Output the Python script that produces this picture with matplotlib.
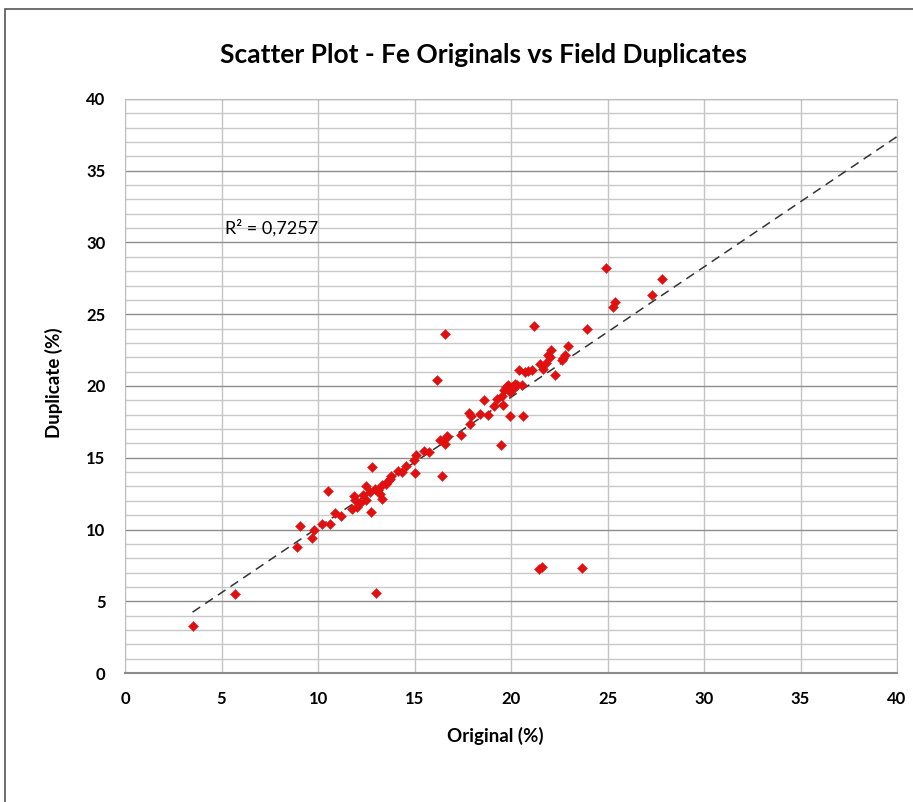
import numpy as np
import matplotlib.pyplot as plt
from matplotlib.patches import Rectangle
from matplotlib.ticker import MultipleLocator

# Fe assays (%): original sample vs field duplicate
original = [3.5, 5.7, 8.9, 9.05, 9.7, 9.8, 10.2, 10.6, 10.5, 10.9,
            11.2, 11.75, 11.85, 11.9, 12.0, 12.2, 12.5, 12.5, 12.7, 12.8,
            12.75, 12.95, 13.0, 13.1, 13.2, 13.3, 13.3, 13.65, 13.75, 13.8,
            14.15, 14.35, 14.55, 14.95, 15.0, 15.1, 15.5, 15.75, 16.15, 16.3,
            16.45, 16.6, 16.6, 16.7, 16.65, 17.4, 17.8, 17.85, 17.95, 18.4,
            18.8, 18.6, 19.1, 19.25, 19.5, 19.6, 19.55, 19.65, 19.75, 19.95,
            19.95, 20.05, 20.1, 20.3, 20.55, 20.6, 20.4, 20.7, 20.9, 21.1,
            21.2, 21.45, 21.6, 21.5, 21.65, 21.8, 21.9, 22.0, 22.05, 22.3,
            22.65, 22.7, 22.8, 22.95, 23.7, 23.95, 24.9, 25.3, 25.4, 27.3,
            27.8, 12.35, 13.5, 19.85, 20.2]
duplicate = [3.3, 5.5, 8.8, 10.25, 9.4, 10.0, 10.4, 10.35, 12.65, 11.15,
             10.95, 11.4, 12.3, 12.05, 11.6, 11.85, 12.05, 13.0, 12.6, 14.35,
             11.25, 12.85, 5.6, 12.75, 12.45, 12.1, 13.1, 13.35, 13.5, 13.75,
             14.1, 14.0, 14.4, 14.85, 13.95, 15.2, 15.5, 15.4, 20.45, 16.25,
             13.75, 23.6, 15.95, 16.55, 16.35, 16.6, 18.1, 17.35, 17.9, 18.05,
             18.0, 19.0, 18.6, 19.1, 15.9, 18.7, 19.3, 19.7, 19.95, 19.6,
             17.9, 19.95, 19.8, 20.05, 20.1, 17.9, 21.1, 21.0, 21.05, 21.1,
             24.2, 7.25, 7.4, 21.5, 21.2, 21.6, 22.15, 22.05, 22.5, 20.75,
             21.8, 21.95, 22.15, 22.8, 7.3, 24.0, 28.2, 25.5, 25.85, 26.35,
             27.45, 12.4, 13.2, 20.1, 20.15]

# linear trendline (Excel), drawn from the lowest original to the axis end
trend_slope = 0.908
trend_intercept = 1.06
r_squared = "0,7257"

font_tick = {"fontsize": 12, "fontweight": "bold", "fontname": "Lato"}
font_label = {"fontsize": 13.5, "fontweight": "bold", "fontname": "Lato"}

fig = plt.figure(figsize=(9.13, 8.02), dpi=100)
ax = fig.add_axes([125 / 913, 129 / 802, 772 / 913, 574 / 802])

# chart frame
fig.patches.append(Rectangle((5 / 913, -0.1), 1.2, (802 - 9) / 802 + 0.1,
                             transform=fig.transFigure, fill=False,
                             edgecolor="#555555", linewidth=1.2))

ax.set_xlim(0, 40)
ax.set_ylim(0, 40)
ax.xaxis.set_major_locator(MultipleLocator(5))
ax.yaxis.set_major_locator(MultipleLocator(5))
ax.yaxis.set_minor_locator(MultipleLocator(1))

ax.grid(which="minor", axis="y", color="#c8c8c8", linewidth=1.0)
ax.grid(which="major", axis="y", color="#8e8e8e", linewidth=1.0)
ax.grid(which="major", axis="x", color="#c4c4c4", linewidth=1.0)
ax.set_axisbelow(True)

for side in ["top", "right", "left"]:
    ax.spines[side].set_color("#bdbdbd")
ax.spines["bottom"].set_color("#8a8a8a")
ax.spines["bottom"].set_linewidth(1.5)

ax.tick_params(which="both", length=0)
ax.tick_params(axis="x", pad=13)
ax.tick_params(axis="y", pad=14)
for lbl in ax.get_xticklabels() + ax.get_yticklabels():
    lbl.set_fontsize(font_tick["fontsize"])
    lbl.set_fontweight(font_tick["fontweight"])
    lbl.set_fontname(font_tick["fontname"])

x_fit = np.array([min(original), 40])
ax.plot(x_fit, trend_slope * x_fit + trend_intercept, linestyle=(0, (6, 4)),
        color="#333333", linewidth=1.1, zorder=2)
ax.scatter(original, duplicate, marker="D", s=26, color="#e01010",
           edgecolors="#e01010", linewidths=0.3, zorder=3)

ax.text(5.2, 31.0, "R² = " + r_squared, fontsize=13, fontname="Lato",
        va="center", ha="left")

fig.text(483 / 913, 1 - 55 / 802, "Scatter Plot - Fe Originals vs Field Duplicates",
         ha="center", va="center", fontsize=19, fontweight="bold", fontname="Lato")
fig.text(495 / 913, 1 - 736 / 802, "Original (%)", ha="center", va="center", **font_label)
fig.text(54 / 913, 1 - 383 / 802, "Duplicate (%)", ha="center", va="center",
         rotation=90, **font_label)

plt.savefig("out.png", dpi=100)
plt.close()
